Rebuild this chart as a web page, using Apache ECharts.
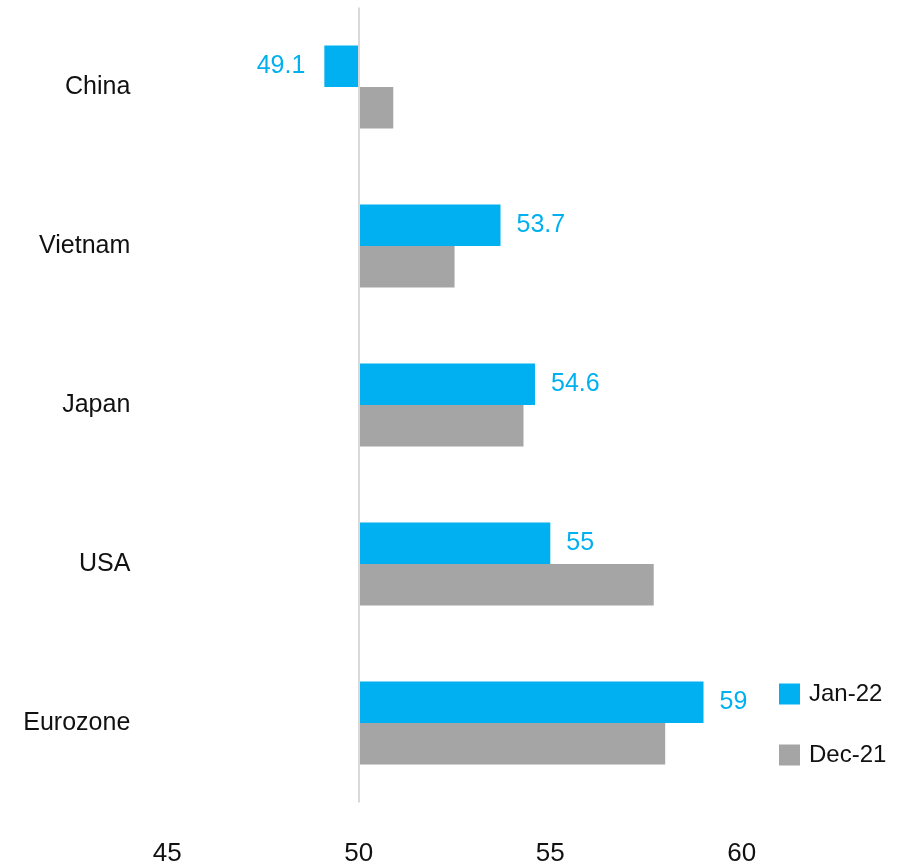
<!DOCTYPE html>
<html>
<head>
<meta charset="utf-8">
<script src="https://cdn.jsdelivr.net/npm/echarts@6/dist/echarts.min.js"></script>
<style>
  html, body { margin: 0; padding: 0; background: #ffffff; }
  #chart { width: 903px; height: 868px; }
</style>
</head>
<body>
<div id="chart"></div>
<script>
// Manufacturing PMI by economy
const countries = ['China', 'Vietnam', 'Japan', 'USA', 'Eurozone'];
const jan22 = [49.1, 53.7, 54.6, 55, 59];
const dec21 = [50.9, 52.5, 54.3, 57.7, 58.0];
const seriesNames = ['Jan-22', 'Dec-21'];
const xTicks = { min: 45, max: 62, interval: 5 };
const BASE = 50; // bars grow from the 50 expansion/contraction threshold

const FONT = "'Liberation Sans', Arial, sans-serif";
const BLUE = '#00B0F0';
const GREY = '#A5A5A5';

function toData(values) {
  return values.map((v, i) => [v, i]);
}

function makeRender(slot, showLabel) {
  return function (params, api) {
    const val = api.value(0);
    const cat = api.value(1);
    const band = api.size([0, 1])[1];
    const barH = band * 0.261;
    const p0 = api.coord([BASE, cat]);
    const p1 = api.coord([val, cat]);
    const y = slot === 0 ? p0[1] - barH : p0[1];
    const x = Math.min(p0[0], p1[0]);
    const w = Math.abs(p1[0] - p0[0]);
    const children = [{
      type: 'rect',
      shape: { x: x, y: y, width: w, height: barH },
      style: { fill: api.visual('color') }
    }];
    if (showLabel) {
      const neg = val < BASE;
      children.push({
        type: 'text',
        x: neg ? p1[0] - 19 : p1[0] + 16,
        y: y + barH / 2,
        style: {
          text: String(val),
          fill: BLUE,
          font: '25px ' + FONT,
          align: neg ? 'right' : 'left',
          verticalAlign: 'middle'
        }
      });
    }
    return { type: 'group', children: children };
  };
}

const chart = echarts.init(document.getElementById('chart'), null, { renderer: 'canvas' });
chart.setOption({
  animation: false,
  backgroundColor: '#ffffff',
  textStyle: { fontFamily: FONT },
  grid: { left: 167.3, top: 7.5, width: 17 * 38.3, height: 795, containLabel: false },
  legend: {
    orient: 'vertical',
    left: 774,
    top: 677,
    itemWidth: 21,
    itemHeight: 21,
    itemGap: 37,
    icon: 'rect',
    data: seriesNames,
    textStyle: { fontSize: 24, color: '#111111', fontFamily: FONT, padding: [0, 0, 0, 4] }
  },
  xAxis: {
    type: 'value',
    min: xTicks.min,
    max: xTicks.max,
    interval: xTicks.interval,
    axisLine: { show: false },
    axisTick: { show: false },
    splitLine: { show: false },
    axisLabel: {
      showMaxLabel: false,
      fontSize: 26,
      color: '#111111',
      margin: 38,
      fontFamily: FONT
    }
  },
  yAxis: {
    type: 'category',
    data: countries,
    inverse: true,
    axisLine: { show: false },
    axisTick: { show: false },
    splitLine: { show: false },
    axisLabel: { fontSize: 25, color: '#111111', margin: 37, fontFamily: FONT }
  },
  series: [
    {
      name: seriesNames[0],
      type: 'custom',
      itemStyle: { color: BLUE },
      encode: { x: 0, y: 1 },
      data: toData(jan22),
      renderItem: makeRender(0, true),
      z: 3,
      markLine: {
        silent: true,
        symbol: 'none',
        label: { show: false },
        lineStyle: { color: '#d9d9d9', width: 2, type: 'solid' },
        data: [{ xAxis: BASE }]
      }
    },
    {
      name: seriesNames[1],
      type: 'custom',
      itemStyle: { color: GREY },
      encode: { x: 0, y: 1 },
      data: toData(dec21),
      renderItem: makeRender(1, false),
      z: 3
    }
  ]
});
</script>
</body>
</html>
